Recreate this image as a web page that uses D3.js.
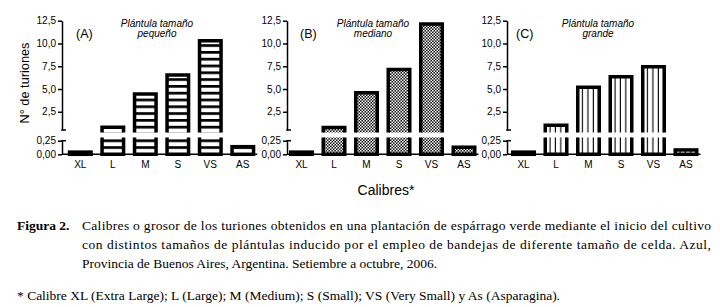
<!DOCTYPE html>
<html><head><meta charset="utf-8">
<script src="https://cdn.jsdelivr.net/npm/d3@7"></script>
<style>body{margin:0;background:#fff}svg{display:block}</style>
</head><body>
<script>
// ---------- data ----------
const categories = ["XL", "L", "M", "S", "VS", "AS"];
const valuesA = [0.04, 0.80, 4.45, 6.55, 10.30, 0.14];
const valuesB = [0.04, 0.77, 4.60, 7.15, 12.15, 0.13];
const valuesC = [0.04, 1.03, 5.20, 6.35, 7.45, 0.08];
const panelLabels = ["(A)", "(B)", "(C)"];
const panelTitleLine1 = ["Plántula tamaño", "Plántula tamaño", "Plántula tamaño"];
const panelTitleLine2 = ["pequeño", "mediano", "grande"];
const upperTicks = [2.5, 5.0, 7.5, 10.0, 12.5];
const lowerTicks = [0.00, 0.25];
const yAxisLabel = "N° de turiones";
const xAxisLabel = "Calibres*";
const captionHead = "Figura 2.";
const captionLines = [
  "Calibres o grosor de los turiones obtenidos en una plantación de espárrago verde mediante el inicio del cultivo",
  "con distintos tamaños de plántulas inducido por el empleo de bandejas de diferente tamaño de celda. Azul,",
  "Provincia de Buenos Aires, Argentina. Setiembre a octubre, 2006."
];
const footnote = "* Calibre XL (Extra Large); L (Large); M (Medium); S (Small); VS (Very Small) y As (Asparagina).";

// ---------- layout ----------
const W = 720, H = 307;
const sans = "'Liberation Sans', Arial, Helvetica, sans-serif";
const serif = "'Liberation Serif', 'Times New Roman', serif";
const locale = d3.formatLocale({decimal: ",", thousands: ".", grouping: [3], currency: ["", ""]});
const fmt1 = locale.format(".1f"), fmt2 = locale.format(".2f");

const panels = [
  {values: valuesA, axisX: 62,  barStart: 63.8, labelX: 76,  titleX: 157, fill: "url(#hstripe)"},
  {values: valuesB, axisX: 287, barStart: 285,  labelX: 300, titleX: 373, fill: "url(#checker)"},
  {values: valuesC, axisX: 507, barStart: 507,  labelX: 516, titleX: 598, fill: "url(#vstripe)"}
];

const svg = d3.select("body").append("svg").attr("width", W).attr("height", H);
const defs = svg.append("defs");

// horizontal stripes
const ph = defs.append("pattern").attr("id", "hstripe").attr("patternUnits", "userSpaceOnUse")
  .attr("x", 0).attr("y", 139.4).attr("width", 20).attr("height", 6.8);
ph.append("rect").attr("width", 20).attr("height", 6.8).attr("fill", "#fff");
ph.append("rect").attr("width", 20).attr("height", 2.7).attr("fill", "#000");
// checker
const pc = defs.append("pattern").attr("id", "checker").attr("patternUnits", "userSpaceOnUse")
  .attr("width", 3).attr("height", 3);
pc.append("rect").attr("width", 3).attr("height", 3).attr("fill", "#111");
pc.append("rect").attr("width", 1.5).attr("height", 1.5).attr("fill", "#fff");
pc.append("rect").attr("x", 1.5).attr("y", 1.5).attr("width", 1.5).attr("height", 1.5).attr("fill", "#fff");
// vertical stripes (4 per bar)
const pv = defs.append("pattern").attr("id", "vstripe").attr("patternUnits", "objectBoundingBox")
  .attr("width", 0.25).attr("height", 1);
pv.append("rect").attr("width", 100).attr("height", 1000).attr("fill", "#fff");
pv.append("rect").attr("x", 21.5 * 0.25 - 1.1).attr("width", 2.2).attr("height", 1000).attr("fill", "#000");

const yU = d3.scaleLinear().domain([0.5, 12.5]).range([130, 20.7]);
const yL = d3.scaleLinear().domain([0, 0.25]).range([154.3, 140.7]);
const lowerCap = 0.31;      // lower segment clip value
const upperBottom = 132.5;  // where upper pieces of broken bars start
const sw = 3.5;

panels.forEach((p, i) => {
  const g = svg.append("g");
  const x = d3.scaleBand().domain(categories)
    .range([p.barStart, p.barStart + 195.5]).paddingInner(0.23).paddingOuter(0.123);
  const bw = x.bandwidth();

  // baseline
  g.append("line").attr("x1", p.axisX).attr("x2", p.barStart + 193.5)
    .attr("y1", yL(0)).attr("y2", yL(0)).attr("stroke", "#000").attr("stroke-width", 1.5);

  // bars
  const data = categories.map((c, k) => ({c, v: p.values[k]}));
  const bars = g.selectAll("g.bar").data(data).join("g").attr("class", "bar");
  bars.each(function(d) {
    const b = d3.select(this);
    const gx = x(d.c) + sw / 2, gw = bw - sw;
    const y0 = yL(0);
    if (d.v <= lowerCap) {
      const yt = yL(d.v);
      b.append("rect").attr("x", gx).attr("y", yt).attr("width", gw).attr("height", y0 - yt)
        .attr("fill", p.fill).attr("stroke", "#000").attr("stroke-width", sw);
    } else {
      const yc = yL(lowerCap);
      b.append("rect").attr("x", gx).attr("y", yc).attr("width", gw).attr("height", y0 - yc).attr("fill", p.fill);
      b.append("path").attr("d", `M${gx},${yc}V${y0}H${gx + gw}V${yc}`)
        .attr("fill", "none").attr("stroke", "#000").attr("stroke-width", sw);
      const yt = yU(d.v);
      b.append("rect").attr("x", gx).attr("y", yt).attr("width", gw).attr("height", upperBottom - yt).attr("fill", p.fill);
      b.append("path").attr("d", `M${gx},${upperBottom}V${yt}H${gx + gw}V${upperBottom}`)
        .attr("fill", "none").attr("stroke", "#000").attr("stroke-width", sw);
    }
  });

  // upper y axis
  const au = g.append("g").attr("transform", `translate(${p.axisX},0)`)
    .call(d3.axisLeft(yU).tickValues(upperTicks).tickFormat(fmt1).tickSize(4).tickSizeOuter(0).tickPadding(2));
  const al = g.append("g").attr("transform", `translate(${p.axisX},0)`)
    .call(d3.axisLeft(yL).tickValues(lowerTicks).tickFormat(fmt2).tickSize(4).tickSizeOuter(0).tickPadding(2));
  [au, al].forEach(a => {
    a.selectAll("path,line").attr("stroke", "#000").attr("stroke-width", 1.5);
    a.selectAll("text").attr("font-family", sans).attr("font-size", 10).attr("fill", "#000");
  });
  // break stubs
  g.append("line").attr("x1", p.axisX - 0.75).attr("x2", p.axisX + 4).attr("y1", 130).attr("y2", 130)
    .attr("stroke", "#000").attr("stroke-width", 1.5);
  g.append("line").attr("x1", p.axisX - 0.75).attr("x2", p.axisX + 4).attr("y1", 140.7).attr("y2", 140.7)
    .attr("stroke", "#000").attr("stroke-width", 1.5);

  // x axis labels
  const ax = g.append("g").attr("transform", `translate(0,${yL(0)})`)
    .call(d3.axisBottom(x).tickSize(0).tickPadding(7));
  ax.select(".domain").remove();
  ax.selectAll("text").attr("font-family", sans).attr("font-size", 10).attr("fill", "#000");

  // panel label and title
  g.append("text").attr("x", p.labelX).attr("y", 37.5).attr("font-family", sans).attr("font-size", 12.5)
    .text(panelLabels[i]);
  g.append("text").attr("x", p.titleX).attr("y", 27).attr("text-anchor", "middle").attr("font-family", sans)
    .attr("font-style", "italic").attr("font-size", 10).text(panelTitleLine1[i]);
  g.append("text").attr("x", p.titleX).attr("y", 37.3).attr("text-anchor", "middle").attr("font-family", sans)
    .attr("font-style", "italic").attr("font-size", 10).text(panelTitleLine2[i]);
});

// axis titles
svg.append("text").attr("transform", "translate(29,83) rotate(-90)").attr("text-anchor", "middle")
  .attr("font-family", sans).attr("font-size", 13).attr("textLength", 81).attr("lengthAdjust", "spacingAndGlyphs")
  .text(yAxisLabel);
svg.append("text").attr("x", 386).attr("y", 195).attr("text-anchor", "middle")
  .attr("font-family", sans).attr("font-size", 14).text(xAxisLabel);

// caption
const capY = [230, 249, 268];
svg.append("text").attr("x", 17).attr("y", capY[0]).attr("font-family", serif).attr("font-weight", "bold")
  .attr("font-size", 13.5).text(captionHead);
captionLines.forEach((t, k) => {
  const el = svg.append("text").attr("x", 82).attr("y", capY[k]).attr("font-family", serif)
    .attr("font-size", 13.5).text(t);
  if (k < 2) el.attr("textLength", 629).attr("lengthAdjust", "spacing");
});
svg.append("text").attr("x", 17).attr("y", 300).attr("font-family", serif).attr("font-size", 13.5).text(footnote);
</script>
</body></html>
